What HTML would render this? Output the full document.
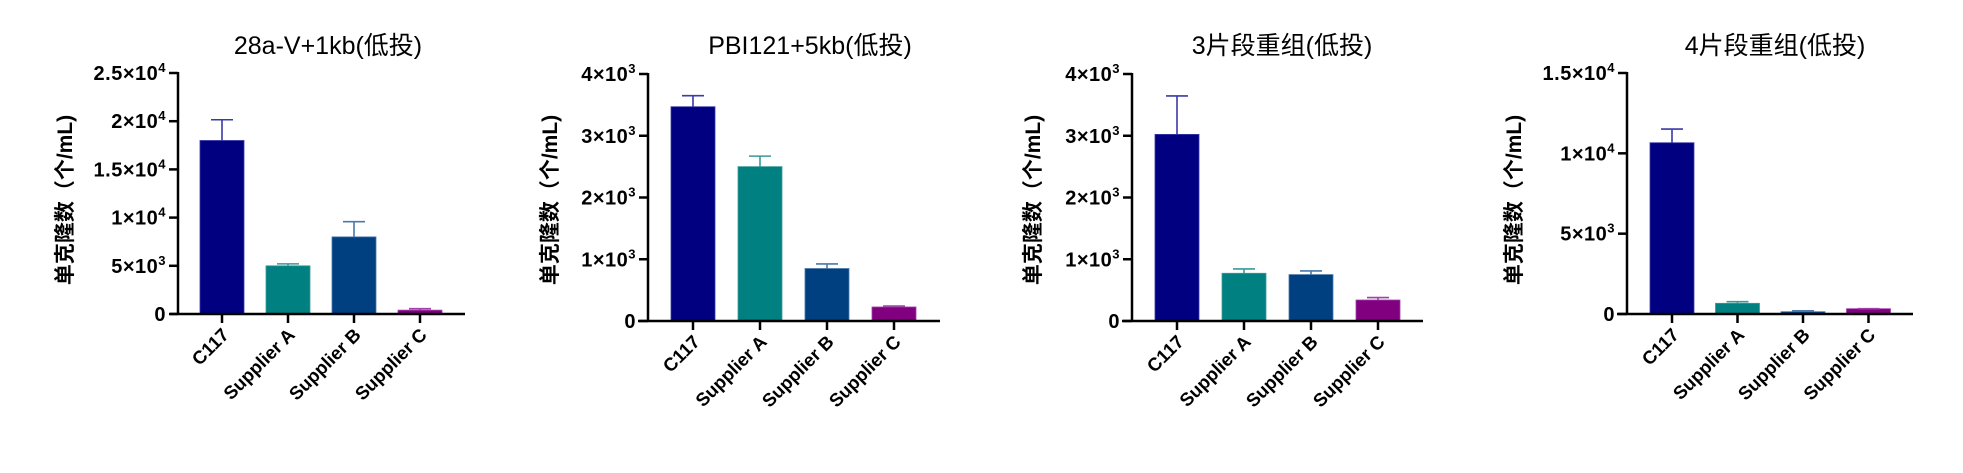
<!DOCTYPE html>
<html><head><meta charset="utf-8"><style>
html,body{margin:0;padding:0;background:#fff;}
svg{display:block;font-family:"Liberation Sans","Noto Sans CJK SC",sans-serif;}
</style></head><body>
<svg id="chart" width="1963" height="473" viewBox="0 0 1963 473" xmlns="http://www.w3.org/2000/svg"></svg>
<script>
const categories = ["C117","Supplier A","Supplier B","Supplier C"];
const titles = ["28a-V+1kb(低投)","PBI121+5kb(低投)","3片段重组(低投)","4片段重组(低投)"];
const means1 = [18000,5000,8000,400];
const errs1 = [20150,5200,9580,550];
const means2 = [3470,2500,850,227];
const errs2 = [3648,2670,924,243];
const means3 = [3022,773,752,340];
const errs3 = [3644,843,811,379];
const means4 = [10660,665,145,330];
const errs4 = [11510,765,200,330];
const ticks1 = [0,5000,10000,15000,20000,25000];
const ticks2 = [0,1000,2000,3000,4000];
const ticks3 = [0,1000,2000,3000,4000];
const ticks4 = [0,5000,10000,15000];
const tickLabels1 = [["0",""],["5×10","3"],["1×10","4"],["1.5×10","4"],["2×10","4"],["2.5×10","4"]];
const tickLabels2 = [["0",""],["1×10","3"],["2×10","3"],["3×10","3"],["4×10","3"]];
const tickLabels3 = tickLabels2;
const tickLabels4 = [["0",""],["5×10","3"],["1×10","4"],["1.5×10","4"]];

const NS="http://www.w3.org/2000/svg";
const svg=document.getElementById('chart');
const fills=["#000080","#008080","#004080","#800080"];
const errCols=["#3a3aa8","#3a9a9a","#4a78aa","#a040a8"];
const panels=[
 {means:means1,errs:errs1,ticks:ticks1,labels:tickLabels1,ax:178,top:73,bot:314,xl:170,xr:465,c0:222,step:66,tx:328,yt:68},
 {means:means2,errs:errs2,ticks:ticks2,labels:tickLabels2,ax:648,top:74,bot:321,xl:638,xr:940,c0:693,step:67,tx:810,yt:553},
 {means:means3,errs:errs3,ticks:ticks3,labels:tickLabels3,ax:1132,top:74,bot:321,xl:1122,xr:1423,c0:1177,step:67,tx:1282,yt:1036},
 {means:means4,errs:errs4,ticks:ticks4,labels:tickLabels4,ax:1627,top:73,bot:314,xl:1617,xr:1913,c0:1672,step:65.5,tx:1775,yt:1517}
];
function mk(tag,attrs,parent){const e=document.createElementNS(NS,tag);for(const k in attrs)e.setAttribute(k,attrs[k]);(parent||svg).appendChild(e);return e;}
panels.forEach((p,pi)=>{
 const g=mk('g',{});
 
 
 const maxV=p.ticks[p.ticks.length-1];
 const y=v=>p.bot-(v/maxV)*(p.bot-p.top);
 const t=mk('text',{x:p.tx,y:54,'text-anchor':'middle','font-size':25,fill:'#000'},g);
 t.textContent=titles[pi];
 
 
 const yt=mk('text',{x:0,y:0,transform:`translate(${p.yt+4},200) rotate(-90)`,'text-anchor':'middle','font-size':21,'font-weight':'bold',fill:'#000'},g);
 yt.textContent='单克隆数（个/mL)';
 
 
 p.means.forEach((v,i)=>{
  const cx=p.c0+i*p.step;
  const r=mk('rect',{x:cx-22,y:y(v),width:44,height:p.bot-y(v),fill:fills[i],stroke:errCols[i],'stroke-width':0.8},g);
  
  
  const e=p.errs[i];
  const el=mk('path',{d:`M${cx},${y(v)}V${y(e)}M${cx-11},${y(e)}H${cx+11}`,stroke:errCols[i],'stroke-width':1.6,fill:'none'},g);
  
  
  mk('line',{x1:cx,x2:cx,y1:p.bot,y2:p.bot+9,stroke:'#000','stroke-width':2.5},g);
  const xl=mk('text',{x:0,y:0,transform:`translate(${cx+8},${p.bot+22}) rotate(-45)`,'text-anchor':'end','font-size':18.5,'font-weight':'bold',fill:'#000'},g);
  xl.textContent=categories[i];
  
  
 });
 const ya=mk('line',{x1:p.ax,x2:p.ax,y1:p.top-1,y2:p.bot+1,stroke:'#000','stroke-width':2.5},g);
 
 
 const xa=mk('line',{x1:p.xl,x2:p.xr,y1:p.bot,y2:p.bot,stroke:'#000','stroke-width':2.5},g);
 
 
 p.ticks.forEach((tv,ti)=>{
  const ty=y(tv);
  mk('line',{x1:p.ax-9,x2:p.ax,y1:ty,y2:ty,stroke:'#000','stroke-width':2.5},g);
  const lab=p.labels[ti];
  const tt=mk('text',{x:p.ax-12,y:ty+7,'text-anchor':'end','font-size':20,'font-weight':'bold','letter-spacing':'0.5',fill:'#000'},g);
  
  
  const s1=mk('tspan',{},tt);s1.textContent=lab[0];
  if(lab[1]){const s2=mk('tspan',{'font-size':13,dy:-8},tt);s2.textContent=lab[1];}
 });
});
</script>
</body></html>
